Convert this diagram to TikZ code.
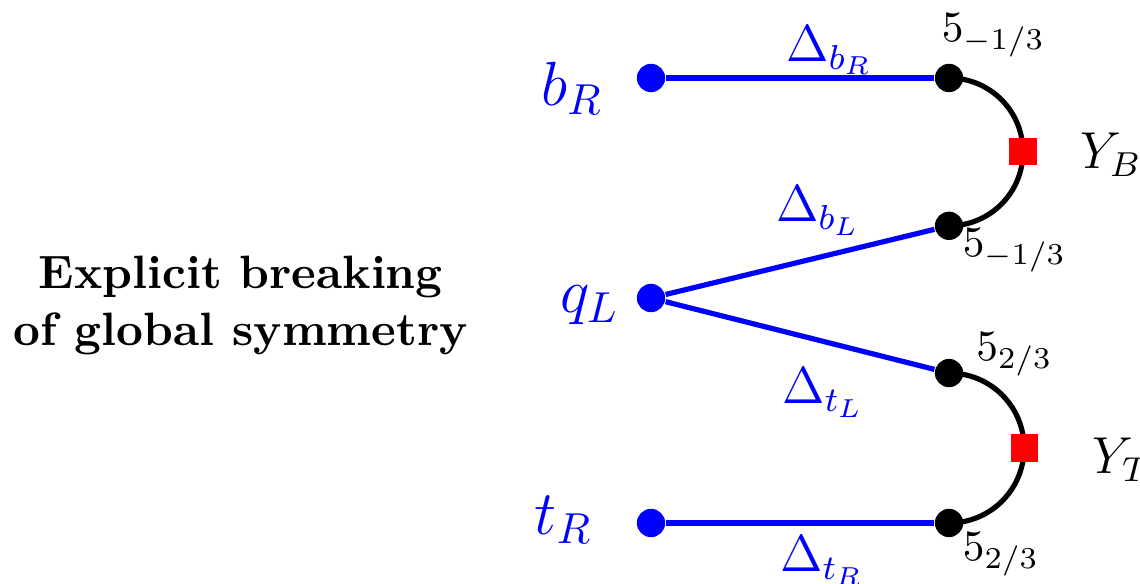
\documentclass[tikz,border=0pt]{standalone}
\usepackage{tikz}
\usetikzlibrary{positioning, backgrounds}
\definecolor{FieldBlue}{RGB}{0,0,255}
\definecolor{SpurionRed}{RGB}{255,0,0}
\tikzset{
  fielddot/.style={circle, fill=FieldBlue, inner sep=0pt, minimum size=0.23cm},
  sitedot/.style={circle, fill=black, inner sep=0pt, minimum size=0.23cm},
  spurion/.style={rectangle, fill=SpurionRed, inner sep=0pt, minimum size=0.22cm},
  fieldlabel/.style={text=FieldBlue, font=\Large, inner sep=0pt},
  mixlabel/.style={text=FieldBlue, font=\large, inner sep=0pt},
  replabel/.style={font=\normalsize, inner sep=0pt},
  yuklabel/.style={font=\large, inner sep=0pt, anchor=west},
  mixline/.style={draw=FieldBlue, very thick},
  yukline/.style={draw=black, very thick}
}
\begin{document}
\begin{tikzpicture}
\useasboundingbox (-5.284,-2.321) rectangle (3.969,2.419);
\clip (-5.284,-2.321) rectangle (3.969,2.419);
% elementary fields
\node[fielddot] (bR) at (0,1.786) {};
\node[fielddot] (qL) at (0,0) {};
\node[fielddot] (tR) at (0,-1.826) {};
% composite sites
\node[sitedot] (bRsite) at (2.419,1.786) {};
\node[sitedot] (bLsite) at (2.419,0.586) {};
\node[sitedot] (tLsite) at (2.419,-0.609) {};
\node[sitedot] (tRsite) at (2.419,-1.826) {};
\node[spurion] (YB) at (3.019,1.186) {};
\node[spurion] (YT) at (3.028,-1.217) {};
% labels
\node[fieldlabel] at (-0.64,1.70) {$b_R$};
\node[fieldlabel] at (-0.50,-0.06) {$q_L$};
\node[fieldlabel] at (-0.71,-1.80) {$t_R$};
\node[mixlabel] at (1.45,2.01) {$\Delta_{b_R}$};
\node[mixlabel] at (1.36,0.71) {$\Delta_{b_L}$};
\node[mixlabel] at (1.40,-0.77) {$\Delta_{t_L}$};
\node[mixlabel] at (1.39,-2.13) {$\Delta_{t_R}$};
\node[replabel] at (2.78,2.13) {$5_{-1/3}$};
\node[replabel] at (2.95,0.39) {$5_{-1/3}$};
\node[replabel] at (2.95,-0.46) {$5_{2/3}$};
\node[replabel] at (2.84,-2.08) {$5_{2/3}$};
\node[yuklabel] at (3.48,1.16) {$Y_B$};
\node[yuklabel] at (3.58,-1.31) {$Y_T$};
\node[align=center, font=\fontsize{10.8}{13}\selectfont\bfseries] at (-3.33,-0.06) {Explicit breaking\\of global symmetry};
\begin{pgfonlayer}{background}
\draw[mixline] (bR) -- (bRsite);
\draw[mixline] (qL) -- (bLsite);
\draw[mixline] (qL) -- (tLsite);
\draw[mixline] (tR) -- (tRsite);
\draw[yukline] (bRsite.center) to[out=0, in=90] (YB.center) to[out=-90, in=0] (bLsite.center);
\draw[yukline] (tLsite.center) to[out=0, in=90] (YT.center) to[out=-90, in=0] (tRsite.center);
\end{pgfonlayer}
\end{tikzpicture}
\end{document}
